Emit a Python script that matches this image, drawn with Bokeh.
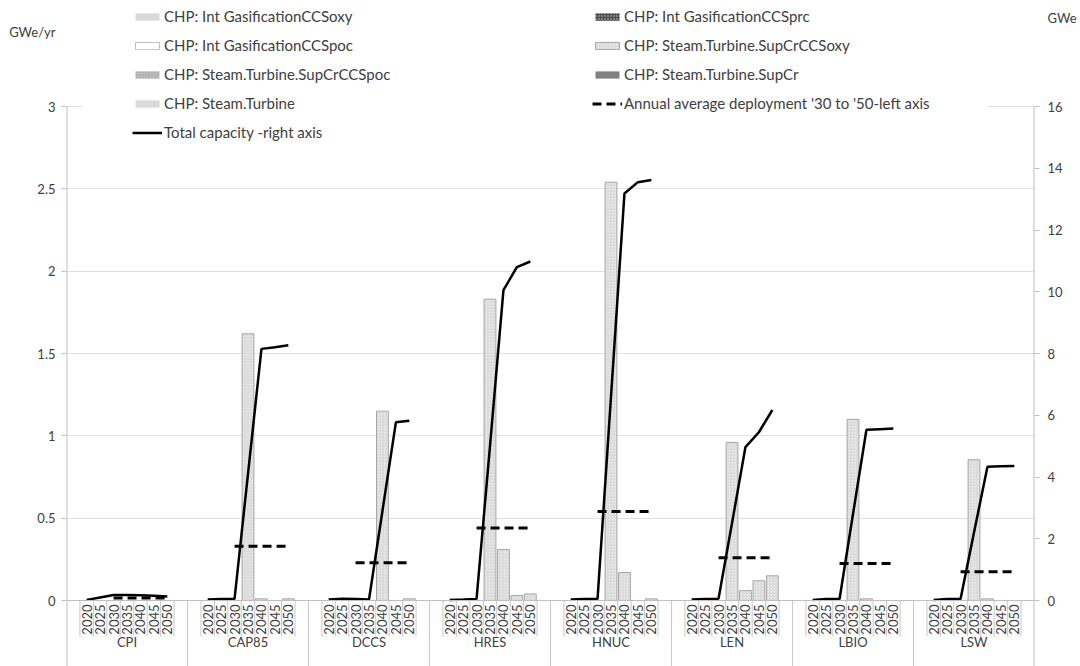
import math
import numpy as np
from bokeh.plotting import figure
from bokeh.models import (Range1d, LinearAxis, FixedTicker, NumeralTickFormatter, Grid, Span,
                          ColumnDataSource, Legend, LegendItem, BoxAnnotation)
from bokeh.core.properties import value
from bokeh.transform import stack
from bokeh.embed import file_html
from bokeh.resources import INLINE

# ---------------- data ----------------
scenarios = ["CPI", "CAP85", "DCCS", "HRES", "HNUC", "LEN", "LBIO", "LSW"]
years = ["2020", "2025", "2030", "2035", "2040", "2045", "2050"]

series_names = [
    "CHP: Int GasificationCCSoxy",
    "CHP: Int GasificationCCSprc",
    "CHP: Int GasificationCCSpoc",
    "CHP: Steam.Turbine.SupCrCCSoxy",
    "CHP: Steam.Turbine.SupCrCCSpoc",
    "CHP: Steam.Turbine.SupCr",
    "CHP: Steam.Turbine",
]
avg_name = "Annual average deployment '30 to '50-left axis"
total_name = "Total capacity -right axis"
left_unit = "GWe/yr"
right_unit = "GWe"

# new capacity, GWe/yr  (rows = scenarios, columns = years)
int_gas_ccs_oxy = [
    [0, 0, 0, 0, 0, 0, 0], [0, 0, 0, 0, 0, 0, 0], [0, 0, 0, 0, 0, 0, 0], [0, 0, 0, 0, 0, 0, 0],
    [0, 0, 0, 0, 0, 0, 0], [0, 0, 0, 0, 0, 0, 0], [0, 0, 0, 0, 0, 0, 0], [0, 0, 0, 0, 0, 0, 0],
]
int_gas_ccs_prc = [
    [0, 0, 0, 0, 0, 0, 0], [0, 0, 0, 0, 0, 0, 0], [0, 0, 0, 0, 0, 0, 0], [0, 0, 0, 0, 0, 0, 0],
    [0, 0, 0, 0, 0, 0, 0], [0, 0, 0, 0, 0, 0, 0], [0, 0, 0, 0, 0, 0, 0], [0, 0, 0, 0, 0, 0, 0],
]
int_gas_ccs_poc = [
    [0, 0, 0, 0, 0, 0, 0], [0, 0, 0, 0, 0, 0, 0], [0, 0, 0, 0, 0, 0, 0], [0, 0, 0, 0, 0, 0, 0],
    [0, 0, 0, 0, 0, 0, 0], [0, 0, 0, 0, 0, 0, 0], [0, 0, 0, 0, 0, 0, 0], [0, 0, 0, 0, 0, 0, 0],
]
st_supcr_ccs_oxy = [
    [0, 0, 0, 0, 0, 0, 0],              # CPI
    [0, 0, 0, 1.62, 0.01, 0, 0.01],     # CAP85
    [0, 0, 0, 0, 1.15, 0, 0.01],        # DCCS
    [0, 0, 0, 1.83, 0.31, 0.03, 0.04],  # HRES
    [0, 0, 0, 2.54, 0.17, 0, 0.01],     # HNUC
    [0, 0, 0, 0.96, 0.06, 0.12, 0.15],  # LEN
    [0, 0, 0, 1.10, 0.01, 0, 0],        # LBIO
    [0, 0, 0, 0.855, 0.01, 0, 0],       # LSW
]
st_supcr_ccs_poc = [
    [0, 0, 0, 0, 0, 0, 0], [0, 0, 0, 0, 0, 0, 0], [0, 0, 0, 0, 0, 0, 0], [0, 0, 0, 0, 0, 0, 0],
    [0, 0, 0, 0, 0, 0, 0], [0, 0, 0, 0, 0, 0, 0], [0, 0, 0, 0, 0, 0, 0], [0, 0, 0, 0, 0, 0, 0],
]
st_supcr = [
    [0, 0, 0, 0, 0, 0, 0], [0, 0, 0, 0, 0, 0, 0], [0, 0, 0, 0, 0, 0, 0], [0, 0, 0, 0, 0, 0, 0],
    [0, 0, 0, 0, 0, 0, 0], [0, 0, 0, 0, 0, 0, 0], [0, 0, 0, 0, 0, 0, 0], [0, 0, 0, 0, 0, 0, 0],
]
st_turbine = [
    [0, 0, 0, 0, 0, 0, 0], [0, 0, 0, 0, 0, 0, 0], [0, 0, 0, 0, 0, 0, 0], [0, 0, 0, 0, 0, 0, 0],
    [0, 0, 0, 0, 0, 0, 0], [0, 0, 0, 0, 0, 0, 0], [0, 0, 0, 0, 0, 0, 0], [0, 0, 0, 0, 0, 0, 0],
]

# annual average deployment 2030-2050, GWe/yr (left axis)
annual_avg = [0.015, 0.33, 0.23, 0.44, 0.54, 0.26, 0.225, 0.175]

# total capacity, GWe (right axis)
total_capacity = [
    [0.02, 0.10, 0.18, 0.18, 0.17, 0.15, 0.13],     # CPI
    [0.03, 0.05, 0.05, 4.10, 8.15, 8.20, 8.27],     # CAP85
    [0.03, 0.06, 0.05, 0.03, 2.90, 5.77, 5.82],     # DCCS
    [0.02, 0.03, 0.05, 5.00, 10.05, 10.80, 10.98],  # HRES
    [0.03, 0.05, 0.05, 6.60, 13.18, 13.55, 13.62],  # HNUC
    [0.03, 0.05, 0.06, 2.50, 4.97, 5.45, 6.17],     # LEN
    [0.02, 0.05, 0.05, 2.80, 5.53, 5.55, 5.57],     # LBIO
    [0.02, 0.05, 0.05, 2.20, 4.33, 4.35, 4.36],     # LSW
]

left_ticks = [0, 0.5, 1, 1.5, 2, 2.5, 3]
right_ticks = [0, 2, 4, 6, 8, 10, 12, 14, 16]

# ---------------- layout constants ----------------
W, H = 1080, 666
FRAME_L, FRAME_R = 66, 46          # borders
ZERO_FROM_BOTTOM = 66              # px from frame bottom to value 0
TOP_ABOVE_MAX = 106                # px from frame top to value max
PLOT_PX = H - ZERO_FROM_BOTTOM - TOP_ABOVE_MAX
LMAX, RMAX = left_ticks[-1], right_ticks[-1]
kL = LMAX / PLOT_PX
kR = RMAX / PLOT_PX
LEFT_UNIT_Y = LMAX + (TOP_ABOVE_MAX - 31) * kL     # unit captions sit above the axes
RIGHT_UNIT_Y = RMAX + (TOP_ABOVE_MAX - 17) * kR

n_years = len(years)
SLOTS = n_years + 2                # blank + years + blank per scenario
n_groups = len(scenarios)
NX = n_groups * SLOTS
SLOT_PX = (W - FRAME_L - FRAME_R) / NX

TEXT = "#404040"
AXIS = "#bfbfbf"
FONT = "Lato"

p = figure(width=W, height=H, output_backend="svg", toolbar_location=None,
           x_range=Range1d(0, NX),
           y_range=Range1d(-ZERO_FROM_BOTTOM * kL, LMAX + TOP_ABOVE_MAX * kL),
           x_axis_location=None, y_axis_location=None, title=None)
p.extra_y_ranges = {"right": Range1d(-ZERO_FROM_BOTTOM * kR, RMAX + TOP_ABOVE_MAX * kR)}
p.min_border = 0
p.min_border_left = FRAME_L
p.min_border_right = FRAME_R
p.outline_line_color = None
p.background_fill_color = "white"
p.xgrid.visible = False
p.ygrid.visible = False

# gridlines
p.add_layout(Grid(dimension=1, ticker=FixedTicker(ticks=left_ticks[1:]),
                  grid_line_color="#e0e0e0", grid_line_width=1))
p.add_layout(Span(location=0, dimension="width", line_color=AXIS, line_width=1))

# ---------------- bars ----------------
xs, cols = [], {}
all_series = [int_gas_ccs_oxy, int_gas_ccs_prc, int_gas_ccs_poc, st_supcr_ccs_oxy,
              st_supcr_ccs_poc, st_supcr, st_turbine]
keys = ["s%d" % i for i in range(len(all_series))]
for g in range(n_groups):
    for j in range(n_years):
        xs.append(g * SLOTS + 1 + j + 0.5)
for k, s in zip(keys, all_series):
    cols[k] = [v for row in s for v in row]
src = ColumnDataSource(dict(x=xs, **cols))

styles = [
    dict(fill_color="#d9d9d9", line_color=None),
    dict(fill_color="#7f7f7f", line_color=None, hatch_pattern="cross", hatch_color="#4a4a4a",
         hatch_scale=3, hatch_weight=1),
    dict(fill_color="white", line_color="#bfbfbf"),
    dict(fill_color="#ececec", line_color="#a6a6a6", hatch_pattern="right_diagonal_line",
         hatch_color="#c8c8c8", hatch_scale=3, hatch_weight=0.7),
    dict(fill_color="#bdbdbd", line_color=None, hatch_pattern="dot", hatch_color="#9a9a9a",
         hatch_scale=3, hatch_weight=1),
    dict(fill_color="#808080", line_color=None),
    dict(fill_color="#d9d9d9", line_color=None),
]
bar_renderers = []
for i, k in enumerate(keys):
    bottom = 0 if i == 0 else stack(*keys[:i])
    r = p.vbar(x="x", bottom=bottom, top=stack(*keys[:i + 1]), width=0.88, source=src,
               line_width=1, **styles[i])
    bar_renderers.append(r)

# ---------------- lines ----------------
cx, cy = [], []
for g in range(n_groups):
    for j in range(n_years):
        cx.append(g * SLOTS + 1 + j + 0.5)
        cy.append(total_capacity[g][j])
    cx.append(np.nan)
    cy.append(np.nan)
total_r = p.line(x=np.array(cx), y=np.array(cy), y_range_name="right",
                 line_color="black", line_width=2.5)

ax, ay = [], []
i2030 = years.index("2030")
for g in range(n_groups):
    for j in range(i2030, n_years):
        ax.append(g * SLOTS + 1 + j + 0.5)
        ay.append(annual_avg[g])
    ax.append(np.nan)
    ay.append(np.nan)
avg_r = p.line(x=np.array(ax), y=np.array(ay), line_color="black", line_width=3,
               line_dash="9 5")

# ---------------- category axis (drawn) ----------------
SHORT = -36 * kL
LONG = -200 * kL
bx, by1 = [], []
for b in range(1, NX):
    bx.append(b)
    by1.append(LONG if b % SLOTS == 0 else SHORT)
p.segment(x0=bx, y0=[0] * len(bx), x1=bx, y1=by1, line_color="#c8c8c8", line_width=1)
# outer frame edges = value-axis lines (upper part) + outer category separators
p.segment(x0=[0, NX], y0=[LMAX, LMAX], x1=[0, NX], y1=[LONG, LONG],
          line_color=AXIS, line_width=2)

yl_x, yl_t = [], []
for g in range(n_groups):
    for j, yr in enumerate(years):
        yl_x.append(g * SLOTS + 1 + j + 0.5)
        yl_t.append(yr)
p.text(x=yl_x, y=[-4 * kL] * len(yl_x), text=yl_t, angle=90, angle_units="deg",
       text_align="right", text_baseline="middle", text_font=value(FONT),
       text_font_size="13px", text_color=TEXT)
p.text(x=[g * SLOTS + SLOTS / 2 for g in range(n_groups)], y=[-41 * kL] * n_groups,
       text=scenarios, text_align="center", text_baseline="middle", text_font=value(FONT),
       text_font_size="13px", text_color=TEXT)

# ---------------- axes ----------------
def style_axis(a):
    a.axis_line_color = None
    a.major_tick_line_color = None
    a.major_tick_out = 5
    a.major_tick_in = 0
    a.minor_tick_line_color = AXIS
    a.minor_tick_out = 5
    a.minor_tick_in = 0
    a.major_label_text_font = FONT
    a.major_label_text_font_size = "13px"
    a.major_label_text_color = TEXT

la = LinearAxis(bounds=(0, LEFT_UNIT_Y + 0.01),
                ticker=FixedTicker(ticks=left_ticks + [LEFT_UNIT_Y], minor_ticks=left_ticks),
                formatter=NumeralTickFormatter(format="0.[0]"),
                major_label_overrides={LEFT_UNIT_Y: left_unit})
style_axis(la)
la.major_label_standoff = 6
p.add_layout(la, "left")
ra = LinearAxis(y_range_name="right", bounds=(0, RIGHT_UNIT_Y + 0.01),
                ticker=FixedTicker(ticks=right_ticks + [RIGHT_UNIT_Y], minor_ticks=right_ticks),
                formatter=NumeralTickFormatter(format="0"),
                major_label_overrides={RIGHT_UNIT_Y: right_unit})
style_axis(ra)
ra.major_label_standoff = 8
p.add_layout(ra, "right")

# ---------------- legends ----------------
# white legend area (hides the top gridline behind the legend block)
p.add_layout(BoxAnnotation(left=(82 - FRAME_L) / SLOT_PX, right=(987 - FRAME_L) / SLOT_PX,
                           bottom=LMAX + (TOP_ABOVE_MAX - 141) * kL,
                           top=LMAX + TOP_ABOVE_MAX * kL,
                           fill_color="white", fill_alpha=1, line_color=None))

def make_legend(items, loc, lw):
    return Legend(items=items, location=loc, orientation="vertical",
                  border_line_color=None, background_fill_color="white",
                  background_fill_alpha=1, padding=0, margin=0, spacing=11,
                  glyph_width=30, glyph_height=9, label_height=18, label_standoff=2,
                  label_width=lw, label_text_font=FONT, label_text_font_size="15px",
                  label_text_color=TEXT)

left_items = [LegendItem(label=series_names[i], renderers=[bar_renderers[i]]) for i in (0, 2, 4, 6)]
left_items.append(LegendItem(label=total_name, renderers=[total_r]))
right_items = [LegendItem(label=series_names[i], renderers=[bar_renderers[i]]) for i in (1, 3, 5)]
right_items.append(LegendItem(label=avg_name, renderers=[avg_r]))

p.add_layout(make_legend(left_items, (66, 525), 428))
p.add_layout(make_legend(right_items, (526, 554), 363))

open("out.html", "w").write(file_html(p, INLINE))
